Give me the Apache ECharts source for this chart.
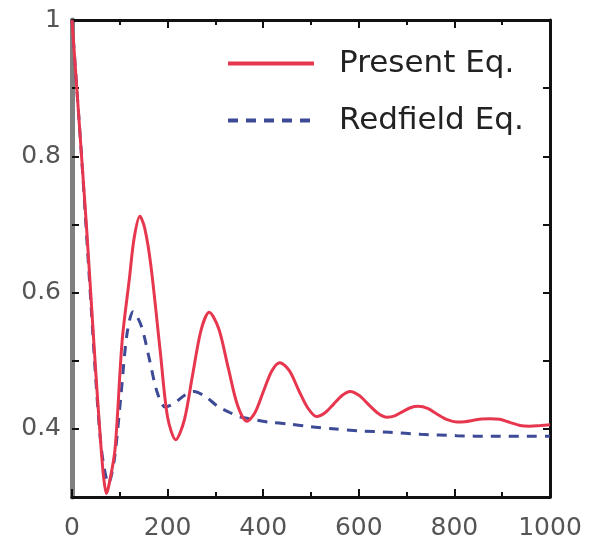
<!DOCTYPE html>
<html>
<head>
<meta charset="utf-8">
<script src="https://cdn.jsdelivr.net/npm/echarts@6/dist/echarts.min.js"></script>
<style>
html,body{margin:0;padding:0;background:#fff;}
#chart{width:592px;height:541px;}
</style>
</head>
<body>
<div id="chart"></div>
<script>
// ---- data ----
var seriesNames = ['Present Eq.', 'Redfield Eq.'];

var presentT = [0, 10, 20, 30, 40, 50, 60, 66, 72, 78, 90, 105, 120, 130, 142, 152, 165, 185, 200, 217, 235, 252, 270, 287, 307, 327, 347, 366, 383, 400, 418, 435, 455, 474, 493, 512, 530, 547, 565, 582, 601, 620, 640, 659, 675, 691, 708, 724, 744, 764, 785, 805, 822, 840, 857, 874, 895, 916, 937, 958, 980, 1000];
var presentV = [1.0, 0.90, 0.80, 0.70, 0.59, 0.48, 0.38, 0.33, 0.305, 0.32, 0.37, 0.53, 0.62, 0.68, 0.712, 0.695, 0.64, 0.511, 0.417, 0.384, 0.413, 0.478, 0.545, 0.571, 0.547, 0.489, 0.433, 0.411, 0.424, 0.454, 0.485, 0.497, 0.485, 0.457, 0.431, 0.418, 0.424, 0.436, 0.449, 0.455, 0.449, 0.436, 0.423, 0.417, 0.419, 0.425, 0.431, 0.433, 0.43, 0.4215, 0.4135, 0.41, 0.4105, 0.4125, 0.4145, 0.415, 0.414, 0.4095, 0.405, 0.404, 0.405, 0.406];

var redfieldT = [0, 10, 20, 30, 40, 50, 60, 68, 76, 88, 102, 115, 128, 145, 162, 178, 195, 215, 235, 255, 280, 305, 330, 350, 370, 410, 456, 500, 546, 600, 665, 730, 805, 880, 958, 1000];
var redfieldV = [1.0, 0.90, 0.80, 0.69, 0.58, 0.47, 0.38, 0.34, 0.32, 0.352, 0.446, 0.539, 0.572, 0.551, 0.502, 0.454, 0.432, 0.438, 0.449, 0.455, 0.447, 0.433, 0.424, 0.418, 0.415, 0.41, 0.407, 0.403, 0.40, 0.397, 0.395, 0.392, 0.39, 0.389, 0.389, 0.389];

var xTickLabels = ['0', '200', '400', '600', '800', '1000'];
var yTickLabels = ['0.4', '0.6', '0.8', '1'];

function pairs(t, v) { return t.map(function (x, i) { return [x, v[i]]; }); }

var FONT = 'DejaVu Sans';
var chart = echarts.init(document.getElementById('chart'), null, {renderer: 'canvas'});

function yFmt(v) {
  var s = String(Math.round(v * 10) / 10);
  return yTickLabels.indexOf(s) >= 0 ? s : '';
}
function xFmt(v) {
  var s = String(Math.round(v));
  return xTickLabels.indexOf(s) >= 0 ? s : '';
}

var option = {
  backgroundColor: '#ffffff',
  animation: false,
  grid: {left: 72, right: 42, top: 20, bottom: 44},
  legend: {
    orient: 'vertical',
    left: 226,
    top: 48,
    padding: 0,
    itemWidth: 86,
    itemHeight: 16,
    itemGap: 26,
    itemStyle: {opacity: 0},
    lineStyle: {width: 4},
    data: seriesNames,
    textStyle: {fontFamily: FONT, fontSize: 31, color: '#222', padding: [3, 0, 0, 20]}
  },
  xAxis: [{
    type: 'value', position: 'bottom', min: 0, max: 1000, interval: 200,
    axisLine: {onZero: false, lineStyle: {color: '#111', width: 3}},
    axisTick: {inside: true, length: 8, lineStyle: {color: '#111', width: 2}},
    minorTick: {show: true, splitNumber: 2, length: 5, lineStyle: {color: '#111', width: 2}},
    splitLine: {show: false},
    axisLabel: {formatter: xFmt, fontFamily: FONT, fontSize: 25, color: '#555', margin: 19}
  }, {
    type: 'value', position: 'top', min: 0, max: 1000, interval: 200,
    axisLine: {onZero: false, lineStyle: {color: '#111', width: 3}},
    axisTick: {inside: true, length: 8, lineStyle: {color: '#111', width: 2}},
    minorTick: {show: true, splitNumber: 2, length: 5, lineStyle: {color: '#111', width: 2}},
    splitLine: {show: false},
    axisLabel: {show: false}
  }],
  yAxis: [{
    type: 'value', position: 'left', min: 0.3, max: 1, interval: 0.1,
    axisLine: {onZero: false, lineStyle: {color: '#808080', width: 5}},
    axisTick: {inside: true, length: 7, lineStyle: {color: '#111', width: 2}},
    splitLine: {show: false},
    axisLabel: {formatter: yFmt, fontFamily: FONT, fontSize: 25, color: '#555', margin: 11}
  }, {
    type: 'value', position: 'right', min: 0.3, max: 1, interval: 0.1,
    axisLine: {onZero: false, lineStyle: {color: '#111', width: 3}},
    axisTick: {inside: true, length: 7, lineStyle: {color: '#111', width: 2}},
    splitLine: {show: false},
    axisLabel: {show: false}
  }],
  series: [{
    name: seriesNames[1], type: 'line', xAxisIndex: 0, yAxisIndex: 0,
    data: pairs(redfieldT, redfieldV), smooth: 0.3, symbol: 'none',
    lineStyle: {color: '#3d4a96', width: 3, type: [10, 8]},
    itemStyle: {color: '#3d4a96'}
  }, {
    name: seriesNames[0], type: 'line', xAxisIndex: 0, yAxisIndex: 0,
    data: pairs(presentT, presentV), smooth: 0.3, symbol: 'none',
    lineStyle: {color: '#e6374f', width: 3},
    itemStyle: {color: '#e6374f'}
  }]
};
chart.setOption(option);
</script>
</body>
</html>
